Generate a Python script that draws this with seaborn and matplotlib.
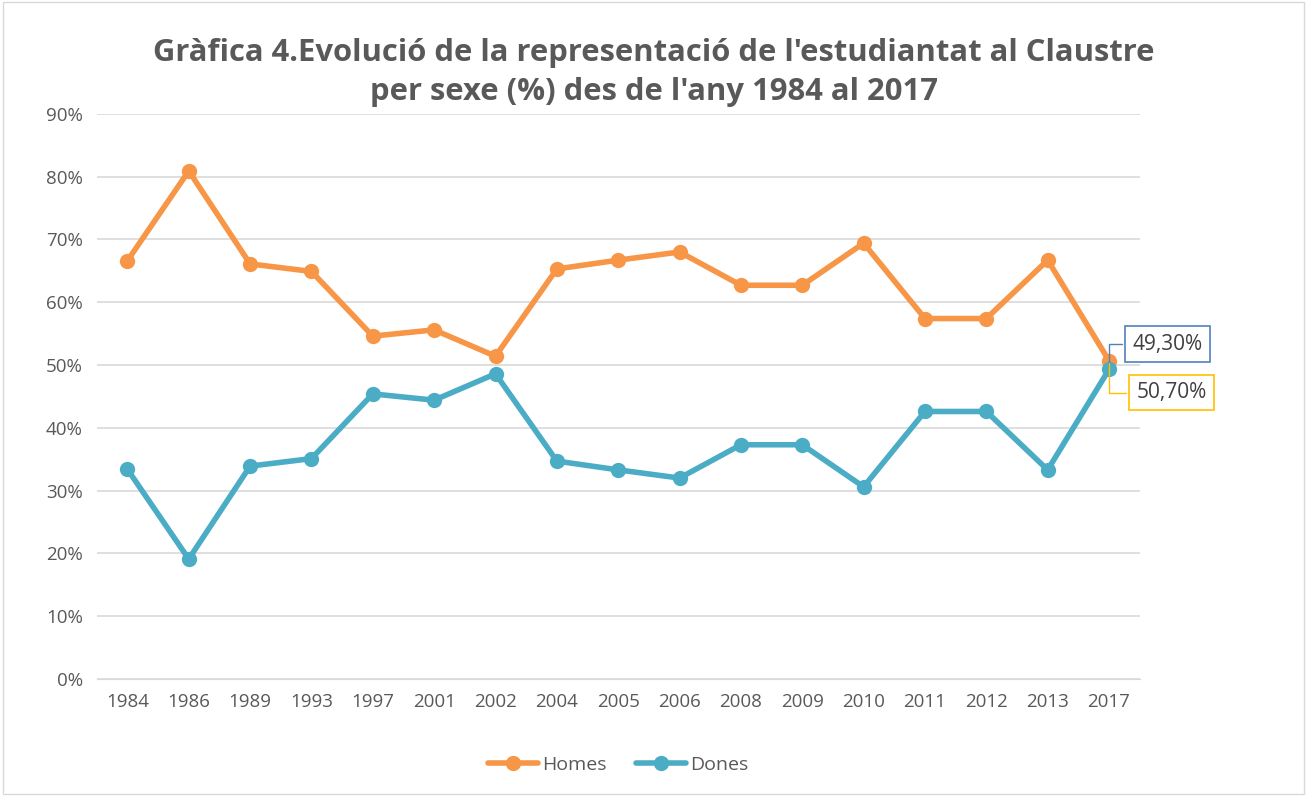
import pandas as pd
import matplotlib.pyplot as plt
import seaborn as sns

years = ["1984", "1986", "1989", "1993", "1997", "2001", "2002", "2004", "2005",
         "2006", "2008", "2009", "2010", "2011", "2012", "2013", "2017"]
homes = [66.6, 80.9, 66.1, 64.9, 54.6, 55.6, 51.4, 65.3, 66.7,
         68.0, 62.7, 62.7, 69.4, 57.4, 57.4, 66.7, 50.7]
dones = [33.4, 19.1, 33.9, 35.1, 45.4, 44.4, 48.6, 34.7, 33.3,
         32.0, 37.3, 37.3, 30.6, 42.6, 42.6, 33.3, 49.3]

df = pd.DataFrame({"any": years * 2,
                   "pct": homes + dones,
                   "sexe": ["Homes"] * len(years) + ["Dones"] * len(years)})

sns.set_style("white")
plt.rcParams["font.family"] = ["Open Sans", "DejaVu Sans"]

fig = plt.figure(figsize=(13.07, 7.96), dpi=100)
ax = fig.add_axes([0.074, 0.147, 0.798, 0.71])

colors = {"Homes": "#F79646", "Dones": "#4BACC6"}
sns.lineplot(data=df, x="any", y="pct", hue="sexe", palette=colors,
             marker="o", markersize=11, markeredgewidth=0, linewidth=4,
             sort=False, ax=ax)

ax.set_ylim(0, 90)
ax.set_xlim(-0.5, len(years) - 0.5)
ax.set_yticks(range(0, 91, 10))
ax.set_yticklabels([f"{v}%" for v in range(0, 91, 10)])
ax.yaxis.grid(True, color="#D9D9D9", linewidth=1.2)
ax.set_axisbelow(True)
for s in ["top", "right", "left"]:
    ax.spines[s].set_visible(False)
ax.spines["bottom"].set_color("#D9D9D9")
ax.tick_params(axis="both", length=0, labelsize=13.5, colors="#595959", pad=10)
ax.set_xlabel("")
ax.set_ylabel("")

last = len(years) - 1
ax.annotate("49,30%", xy=(last, dones[-1]), xytext=(last + 0.38, 53.3),
            fontsize=15, color="#404040", ha="left", va="center",
            bbox=dict(boxstyle="square,pad=0.35", fc="white", ec="#4F81BD", lw=1.2),
            arrowprops=dict(arrowstyle="-", color="#4F81BD", lw=1,
                            connectionstyle="angle,angleA=0,angleB=90,rad=0"))
ax.annotate("50,70%", xy=(last, homes[-1]), xytext=(last + 0.45, 45.6),
            fontsize=15, color="#404040", ha="left", va="center",
            bbox=dict(boxstyle="square,pad=0.35", fc="white", ec="#FFC000", lw=1.2),
            arrowprops=dict(arrowstyle="-", color="#FFC000", lw=1,
                            connectionstyle="angle,angleA=0,angleB=90,rad=0"))

fig.suptitle("Gràfica 4.Evolució de la representació de l'estudiantat al Claustre\n"
             "per sexe (%) des de l'any 1984 al 2017",
             fontsize=22.3, fontweight="bold", color="#595959", y=0.952,
             linespacing=1.4)

handles, labels = ax.get_legend_handles_labels()
ax.legend(handles, labels, loc="upper center", bbox_to_anchor=(0.5, -0.105),
          ncol=2, frameon=False, fontsize=14, labelcolor="#595959",
          handlelength=2.6, columnspacing=1.5, handletextpad=0.2)

fig.patches.append(plt.Rectangle((0.002, 0.002), 0.996, 0.996, transform=fig.transFigure,
                                 fill=False, ec="#D9D9D9", lw=1))

plt.savefig("out.png", dpi=100)
